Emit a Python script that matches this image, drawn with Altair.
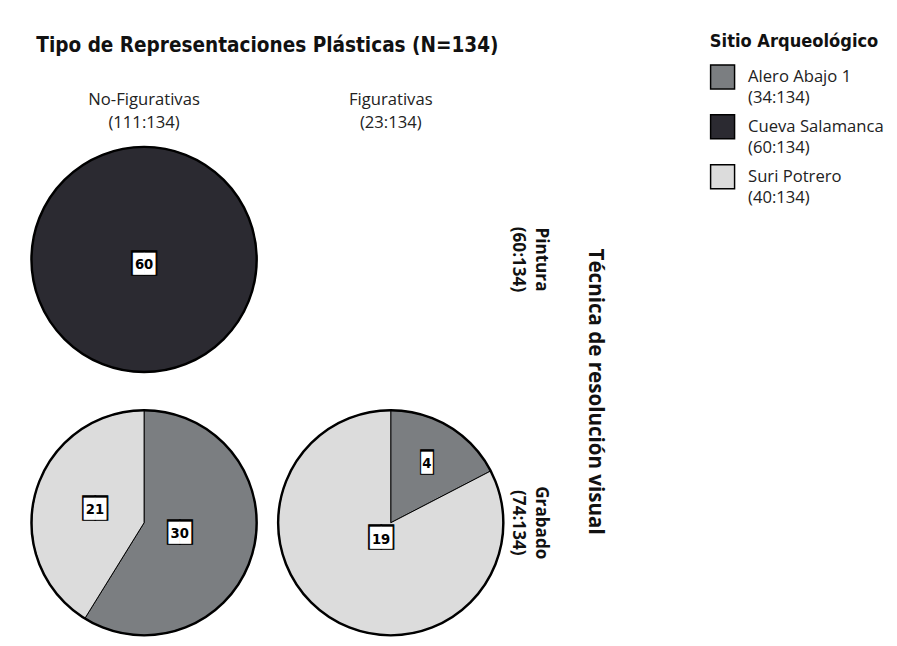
import altair as alt
import pandas as pd

# ---- data ----
# (the Pintura / Figurativas cell is empty in the reference: a zero row keeps the 2x2 grid)
tecnica = ["Pintura", "Pintura", "Grabado", "Grabado", "Grabado", "Grabado"]
tipo = ["No-Figurativas", "Figurativas", "No-Figurativas", "No-Figurativas", "Figurativas", "Figurativas"]
sitio = ["Cueva Salamanca", "Alero Abajo 1", "Alero Abajo 1", "Suri Potrero", "Alero Abajo 1", "Suri Potrero"]
conteo = [60, 0, 30, 21, 4, 19]

tecnica_lbl = {"Pintura": "Pintura\n(60:134)", "Grabado": "Grabado\n(74:134)"}
tipo_lbl = {"No-Figurativas": "No-Figurativas\n(111:134)", "Figurativas": "Figurativas\n(23:134)"}
sitio_lbl = {"Alero Abajo 1": "Alero Abajo 1\n(34:134)",
             "Cueva Salamanca": "Cueva Salamanca\n(60:134)",
             "Suri Potrero": "Suri Potrero\n(40:134)"}
sitio_order = ["Alero Abajo 1", "Cueva Salamanca", "Suri Potrero"]
sitio_colors = ["#7b7e81", "#2b2a31", "#dcdcdc"]

df = pd.DataFrame({
    "tecnica": [tecnica_lbl[t] for t in tecnica],
    "tipo": [tipo_lbl[t] for t in tipo],
    "sitio": [sitio_lbl[s] for s in sitio],
    "conteo": conteo,
})

COND = "DejaVu Sans Condensed, Roboto Condensed, Roboto, sans-serif"
R = 115

theta = alt.Theta("conteo:Q", stack=True)
order = alt.Order("sitio:N", sort="ascending")
visible = alt.condition("datum.conteo > 0", alt.value(1), alt.value(0))

arcs = alt.Chart().mark_arc(radius=R, stroke="black", strokeWidth=1).encode(
    theta=theta,
    order=order,
    opacity=visible,
    color=alt.Color(
        "sitio:N",
        scale=alt.Scale(domain=[sitio_lbl[s] for s in sitio_order], range=sitio_colors),
        legend=alt.Legend(
            title="Sitio Arqueológico",
            orient="none",
            legendX=694,
            legendY=-116,
            symbolType="square",
            symbolSize=600,
            symbolStrokeColor="black",
            symbolStrokeWidth=1.5,
            symbolOpacity=1,
            labelExpr="split(datum.label, '\\n')",
            labelFont="Open Sans",
            labelFontSize=17,
            labelColor="#222",
            labelBaseline="middle",
            labelOffset=13,
            rowPadding=5,
            titleFont=COND,
            titleFontSize=18.5,
            titleFontWeight="bold",
            titleColor="#111",
            titlePadding=14,
        ),
    ),
)

ring = alt.Chart().transform_aggregate(
    total="sum(conteo)", groupby=["tecnica", "tipo"]
).mark_arc(radius=R, fillOpacity=0, stroke="black", strokeWidth=2.5).encode(
    theta="total:Q",
    opacity=alt.condition("datum.total > 0", alt.value(1), alt.value(0)),
)

# label positions: middle angle of each slice (radians), distance from centre
lab = alt.Chart().transform_joinaggregate(
    total="sum(conteo)", groupby=["tecnica", "tipo"]
).transform_window(
    cum="sum(conteo)", groupby=["tecnica", "tipo"],
    sort=[alt.SortField("sitio", order="ascending")], frame=[None, 0],
).transform_calculate(
    ang="datum.total > 0 ? 2 * PI * (datum.cum - datum.conteo / 2) / datum.total : 0",
    lr="datum.total > 0 ? 85 - 80 * datum.conteo / datum.total : 0",
    caja="pad('', length(toString(datum.conteo)), '█')",
)
pos = dict(
    theta=alt.Theta("ang:Q", scale=None, stack=None),
    radius=alt.Radius("lr:Q", scale=None),
    opacity=visible,
)

box_out = lab.mark_text(font="DejaVu Sans Mono", fontSize=21, color="black",
                        stroke="black", strokeWidth=1.2,
                        align="center", baseline="middle").encode(text="caja:N", **pos)
box_in = lab.mark_text(font="DejaVu Sans Mono", fontSize=19, color="white",
                       align="center", baseline="middle").encode(text="caja:N", **pos)
nums = lab.mark_text(font=COND, fontSize=15, fontWeight="bold", color="black",
                     align="center", baseline="middle").encode(text="conteo:Q", **pos)

layer = alt.layer(arcs, ring, box_out, box_in, nums).properties(width=232, height=232)

chart = layer.facet(
    data=df,
    row=alt.Row(
        "tecnica:N",
        sort=[tecnica_lbl["Pintura"], tecnica_lbl["Grabado"]],
        header=alt.Header(
            title="Técnica de resolución visual",
            titleOrient="right",
            labelOrient="right",
            titleAngle=90,
            labelAngle=90,
            labelAlign="center",
            labelBaseline="middle",
            labelExpr="split(datum.value, '\\n')",
            labelFont="Open Sans",
            labelFontWeight="bold",
            labelFontSize=17.5,
            labelLineHeight=24,
            labelColor="#111",
            labelPadding=-4,
            titleFont="Open Sans",
            titleFontWeight="bold",
            titleFontSize=21,
            titleColor="#111",
            titlePadding=26,
        ),
    ),
    column=alt.Column(
        "tipo:N",
        sort=[tipo_lbl["No-Figurativas"], tipo_lbl["Figurativas"]],
        header=alt.Header(
            title="Tipo de Representaciones Plásticas (N=134)",
            titleOrient="top",
            titleAnchor="middle",
            titleFont=COND,
            titleFontSize=21,
            titleFontWeight="bold",
            titleColor="#111",
            titlePadding=26,
            labelOrient="top",
            labelExpr="split(datum.value, '\\n')",
            labelFont="Open Sans",
            labelFontSize=17,
            labelLineHeight=24,
            labelColor="#222",
            labelPadding=14,
        ),
    ),
    spacing={"row": 37, "column": 20},
    bounds="flush",
).properties(
    padding={"left": 19, "top": 18, "right": 5, "bottom": 0},
).configure_view(stroke=None).configure(
    background="white",
    style={"guide-label": {"lineHeight": 22}},
)

chart.save("out.html", embed_options={"renderer": "svg", "actions": False})
